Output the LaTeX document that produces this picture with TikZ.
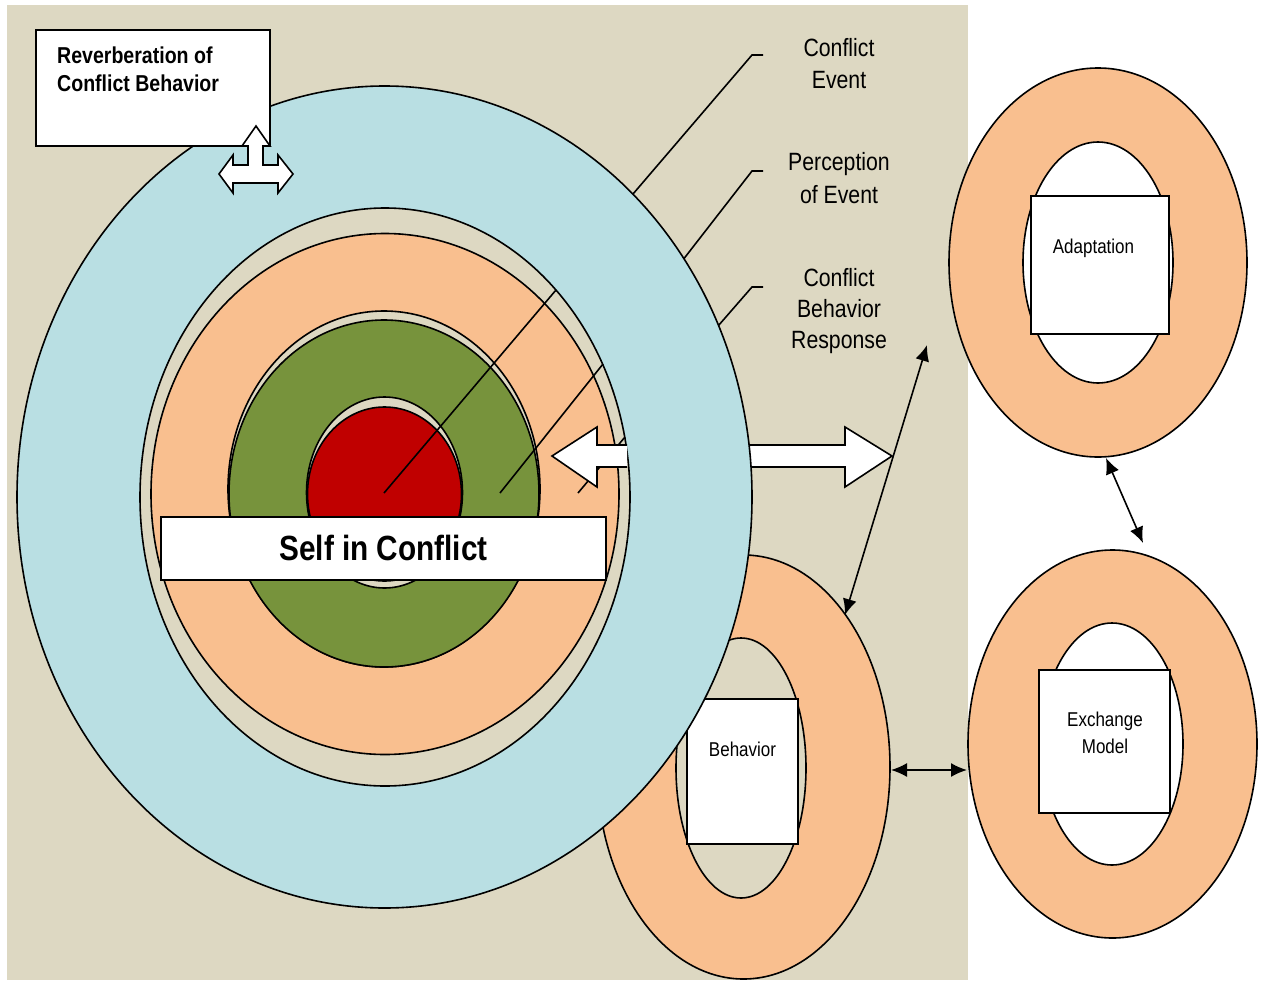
\documentclass[tikz,border=0pt]{standalone}
\usepackage{fontspec}
\setmainfont{Liberation Sans}
\newfontfamily\nar[FakeStretch=0.85]{Liberation Sans}
\usetikzlibrary{arrows.meta}
\definecolor{bgbeige}{HTML}{DDD8C2}
\definecolor{ringblue}{HTML}{B9DFE3}
\definecolor{ringorange}{HTML}{F9BF8F}
\definecolor{ringgreen}{HTML}{77933C}
\definecolor{corered}{HTML}{C00000}
\tikzset{
  ln/.style={draw=black, line width=1.6pt},
  wbox/.style={draw=black, fill=white, line width=1.6pt, inner sep=0pt, outer sep=0pt},
  lbl/.style={font=\nar\fontsize{25}{30}\selectfont, inner sep=0pt},
  boxlbl/.style={font=\nar\fontsize{20}{24}\selectfont, inner sep=0pt},
  thinarr/.style={line width=1.6pt, {Latex[length=16pt,width=14pt]}-{Latex[length=16pt,width=14pt]}}
}
\begin{document}
\begin{tikzpicture}[x=1pt,y=-1pt]
\useasboundingbox (0,0) rectangle (1261,980);
% background
\fill[bgbeige] (7,5) rectangle (968,980);
% Adaptation ring
\draw[ln, fill=ringorange] (1098,262.5) ellipse [x radius=149pt, y radius=194.5pt];
\draw[ln, fill=white] (1098,262.5) ellipse [x radius=75pt, y radius=120.5pt];
\node[wbox, minimum width=138pt, minimum height=138pt] (adaptbox) at (1100,265) {};
\node[boxlbl, anchor=base] (adapttxt) at (1093.5,253) {Adaptation};
% Exchange ring
\draw[ln, fill=ringorange] (1112.5,744) ellipse [x radius=144.5pt, y radius=194pt];
\draw[ln, fill=white] (1112,744) ellipse [x radius=71pt, y radius=121pt];
\node[wbox, minimum width=131pt, minimum height=143pt] (exbox) at (1104.5,741.5) {};
\node[boxlbl, anchor=base] (extxt1) at (1105,726.5) {Exchange};
\node[boxlbl, anchor=base] (extxt2) at (1105,753) {Model};
% outer label leader lines
\coordinate (l1a) at (621,208); \coordinate (l1b) at (752,55); \coordinate (l1c) at (763,55);
\coordinate (l2a) at (672,274); \coordinate (l2b) at (752,171); \coordinate (l2c) at (763,171);
\coordinate (l3a) at (705,341); \coordinate (l3b) at (752,287); \coordinate (l3c) at (763,287);
\draw[ln] (l1a) -- (l1b) -- (l1c);
\draw[ln] (l2a) -- (l2b) -- (l2c);
\draw[ln] (l3a) -- (l3b) -- (l3c);
% right white block arrow
\fill[white] (700,445) -- (845,445) -- (845,427) -- (892,456) -- (845,487) -- (845,467) -- (700,467) -- cycle;
\draw[ln, line join=miter] (700,445) -- (845,445) -- (845,427) -- (892,456) -- (845,487) -- (845,467) -- (700,467);
% Behavior ring
\draw[ln, fill=ringorange] (743.5,767) ellipse [x radius=146.5pt, y radius=212pt];
\draw[ln, fill=bgbeige] (741,768) ellipse [x radius=65pt, y radius=130pt];
\node[wbox, minimum width=111pt, minimum height=145pt] (behbox) at (742.5,771.5) {};
\node[boxlbl, anchor=base] (behtxt) at (742.5,756) {Behavior};
% big rings
\draw[ln, fill=ringblue] (384.5,497) ellipse [x radius=367.5pt, y radius=411pt];
\draw[ln, fill=bgbeige] (385,497) ellipse [x radius=245pt, y radius=289pt];
\draw[ln, fill=ringorange] (385,494) ellipse [x radius=234pt, y radius=260.5pt];
\draw[ln, fill=bgbeige] (384,489) ellipse [x radius=156pt, y radius=178pt];
\draw[ln, fill=ringgreen] (384,493.5) ellipse [x radius=155pt, y radius=173.5pt];
\draw[ln, fill=bgbeige] (384.5,492.5) ellipse [x radius=78pt, y radius=95.5pt];
\draw[ln, fill=corered] (384.5,494) ellipse [x radius=77pt, y radius=87pt];
% inner leader lines
\draw[ln] (384,493) -- (556,290);
\draw[ln] (500,493) -- (603,364);
\draw[ln] (578,493) -- (625,437);
% left white block arrow
\fill[white] (627,445) -- (597,445) -- (597,427) -- (552,456) -- (597,487) -- (597,467) -- (627,467) -- cycle;
\draw[ln, line join=miter] (627,445) -- (597,445) -- (597,427) -- (552,456) -- (597,487) -- (597,467) -- (627,467);
% Self in Conflict
\node[wbox, minimum width=445pt, minimum height=63pt] (selfbox) at (383.5,548.5) {};
\node[inner sep=0pt, anchor=base, font=\nar\bfseries\fontsize{35}{40}\selectfont] (selftxt) at (383.5,560) {Self in Conflict};
% Reverberation box
\node[wbox, minimum width=234pt, minimum height=116pt] (revbox) at (153,88) {};
\node[inner sep=0pt, anchor=base west, font=\nar\bfseries\fontsize{23}{28}\selectfont] (revtxt1) at (57,63.3) {Reverberation of};
\node[inner sep=0pt, anchor=base west, font=\nar\bfseries\fontsize{23}{28}\selectfont] (revtxt2) at (57,91.7) {Conflict Behavior};
% up-left-right block arrow
\filldraw[ln, fill=white, line join=miter] (256,126) -- (270,146) -- (263,146) -- (263,165) -- (278,165) -- (278,155) -- (293,174) -- (278,193) -- (278,183) -- (233,183) -- (233,193) -- (219,174) -- (233,155) -- (233,165) -- (248,165) -- (248,146) -- (242,146) -- cycle;
% thin arrows
\coordinate (ta1) at (927,345); \coordinate (ta2) at (845,615);
\draw[thinarr] (ta1) -- (ta2);
\coordinate (tb1) at (891,770); \coordinate (tb2) at (967,770);
\draw[thinarr] (tb1) -- (tb2);
\coordinate (tc1) at (1106,458); \coordinate (tc2) at (1143,543);
\draw[thinarr] (tc1) -- (tc2);
% labels
\node[lbl, anchor=base] (ce1) at (839,56) {Conflict};
\node[lbl, anchor=base] (ce2) at (839,88.5) {Event};
\node[lbl, anchor=base] (pe1) at (839,170.7) {Perception};
\node[lbl, anchor=base] (pe2) at (839,203) {of Event};
\node[lbl, anchor=base] (cb1) at (839,286.7) {Conflict};
\node[lbl, anchor=base] (cb2) at (839,317.7) {Behavior};
\node[lbl, anchor=base] (cb3) at (839,348) {Response};
\end{tikzpicture}
\end{document}
